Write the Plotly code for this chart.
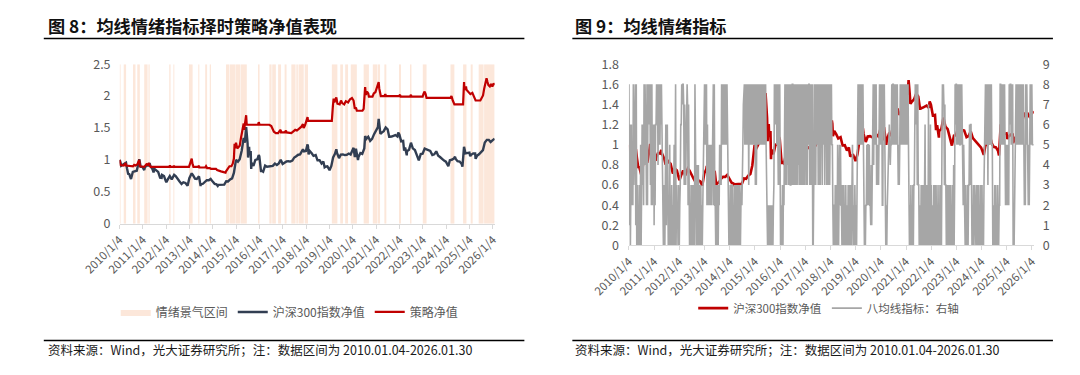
import pandas as pd
import plotly.graph_objects as go

FONT = "Noto Sans CJK SC"

# ---------------- data ----------------
tick_labels = ["2010/1/4", "2011/1/4", "2012/1/4", "2013/1/4", "2014/1/4", "2015/1/4",
               "2016/1/4", "2017/1/4", "2018/1/4", "2019/1/4", "2020/1/4", "2021/1/4",
               "2022/1/4", "2023/1/4", "2024/1/4", "2025/1/4", "2026/1/4"]

# CSI300 net value (normalised to 2010-01-04)
hs_dates = [
    "2010-01-04", "2010-01-14", "2010-01-29", "2010-02-26", "2010-03-31", "2010-04-15", "2010-04-30", "2010-05-20", "2010-05-31", "2010-06-30",
    "2010-07-02", "2010-07-30", "2010-08-31", "2010-09-30", "2010-10-29", "2010-11-08", "2010-11-30", "2010-12-31",
    "2011-01-25", "2011-01-31", "2011-02-28", "2011-03-31", "2011-04-18", "2011-04-29", "2011-05-31", "2011-06-20", "2011-06-30",
    "2011-07-29", "2011-08-31", "2011-09-30", "2011-10-24", "2011-10-31", "2011-11-30", "2011-12-30",
    "2012-01-06", "2012-01-31", "2012-02-29", "2012-03-30", "2012-04-27", "2012-05-07", "2012-05-31", "2012-06-29", "2012-07-31",
    "2012-08-31", "2012-09-28", "2012-10-31", "2012-11-30", "2012-12-03", "2012-12-31",
    "2013-01-31", "2013-02-06", "2013-02-28", "2013-03-29", "2013-04-26", "2013-05-31", "2013-06-25", "2013-06-28", "2013-07-31",
    "2013-08-30", "2013-09-30", "2013-10-31", "2013-11-29", "2013-12-31",
    "2014-01-31", "2014-02-28", "2014-03-20", "2014-03-31", "2014-04-30", "2014-05-30", "2014-06-30", "2014-07-31", "2014-08-29",
    "2014-09-30", "2014-10-31", "2014-11-28", "2014-12-31",
    "2015-01-30", "2015-02-27", "2015-03-31", "2015-04-30", "2015-05-18", "2015-05-29", "2015-06-08", "2015-06-30", "2015-07-08",
    "2015-07-24", "2015-07-31", "2015-08-18", "2015-08-26", "2015-08-31", "2015-09-30", "2015-10-30", "2015-11-30", "2015-12-22", "2015-12-31",
    "2016-01-28", "2016-01-29", "2016-02-29", "2016-03-31", "2016-04-29", "2016-05-31", "2016-06-30", "2016-07-29", "2016-08-31",
    "2016-09-30", "2016-10-31", "2016-11-30", "2016-12-30",
    "2017-01-26", "2017-02-28", "2017-03-31", "2017-04-28", "2017-05-31", "2017-06-30", "2017-07-31", "2017-08-31", "2017-09-29",
    "2017-10-31", "2017-11-13", "2017-11-30", "2017-12-29",
    "2018-01-24", "2018-01-31", "2018-02-09", "2018-02-28", "2018-03-30", "2018-04-27", "2018-05-31", "2018-06-29", "2018-07-31",
    "2018-08-31", "2018-09-28", "2018-10-18", "2018-10-31", "2018-11-30", "2018-12-28",
    "2019-01-03", "2019-01-31", "2019-02-28", "2019-03-29", "2019-04-19", "2019-04-30", "2019-05-31", "2019-06-28", "2019-07-31",
    "2019-08-30", "2019-09-30", "2019-10-31", "2019-11-29", "2019-12-31",
    "2020-01-14", "2020-02-03", "2020-02-20", "2020-03-23", "2020-03-31", "2020-04-30", "2020-05-29", "2020-06-30", "2020-07-13",
    "2020-07-31", "2020-08-31", "2020-09-30", "2020-10-30", "2020-11-30", "2020-12-31",
    "2021-01-29", "2021-02-10", "2021-02-26", "2021-03-09", "2021-03-31", "2021-04-30", "2021-05-31", "2021-06-30", "2021-07-28",
    "2021-07-30", "2021-08-31", "2021-09-30", "2021-10-29", "2021-11-30", "2021-12-13", "2021-12-31",
    "2022-01-28", "2022-02-28", "2022-03-15", "2022-03-31", "2022-04-26", "2022-04-29", "2022-05-31", "2022-06-30", "2022-07-29",
    "2022-08-31", "2022-09-30", "2022-10-31", "2022-11-30", "2022-12-30",
    "2023-01-31", "2023-02-28", "2023-03-31", "2023-04-28", "2023-05-31", "2023-06-30", "2023-07-31", "2023-08-31", "2023-09-28",
    "2023-10-31", "2023-11-30", "2023-12-29",
    "2024-01-31", "2024-02-05", "2024-02-29", "2024-03-29", "2024-04-30", "2024-05-20", "2024-05-31", "2024-06-28", "2024-07-31",
    "2024-08-30", "2024-09-13", "2024-09-30", "2024-10-08", "2024-10-31", "2024-11-29", "2024-12-31",
    "2025-01-13", "2025-01-27", "2025-02-28", "2025-03-31", "2025-04-07", "2025-04-30", "2025-05-30", "2025-06-30", "2025-07-31",
    "2025-08-29", "2025-09-30", "2025-10-31", "2025-11-28", "2025-12-31", "2026-01-30"]
hs_values = [
    1.000, 0.976, 0.906, 0.928, 0.950, 0.956, 0.868, 0.769, 0.786, 0.725,
    0.700, 0.812, 0.821, 0.830, 0.957, 1.008, 0.891, 0.885,
    0.840, 0.870, 0.916, 0.912, 0.948, 0.909, 0.861, 0.803, 0.861,
    0.831, 0.812, 0.722, 0.718, 0.764, 0.745, 0.664,
    0.648, 0.697, 0.745, 0.694, 0.743, 0.764, 0.745, 0.696, 0.660,
    0.623, 0.649, 0.638, 0.605, 0.595, 0.714,
    0.760, 0.789, 0.756, 0.706, 0.701, 0.741, 0.590, 0.614, 0.625,
    0.661, 0.681, 0.681, 0.701, 0.659,
    0.623, 0.616, 0.590, 0.607, 0.611, 0.610, 0.612, 0.665, 0.662,
    0.693, 0.710, 0.794, 0.999,
    0.971, 1.010, 1.146, 1.343, 1.270, 1.369, 1.514, 1.265, 1.036,
    1.205, 1.079, 1.137, 0.856, 0.952, 0.906, 1.000, 1.009, 1.075, 1.055,
    0.807, 0.833, 0.814, 0.910, 0.893, 0.896, 0.892, 0.906, 0.941,
    0.920, 0.944, 1.001, 0.936,
    0.958, 0.976, 0.978, 0.973, 0.988, 1.037, 1.057, 1.081, 1.085,
    1.133, 1.165, 1.133, 1.140,
    1.242, 1.209, 1.086, 1.138, 1.103, 1.062, 1.075, 0.993, 0.995,
    0.943, 0.973, 0.883, 0.892, 0.897, 0.852,
    0.838, 0.905, 1.038, 1.095, 1.165, 1.107, 1.027, 1.082, 1.085,
    1.075, 1.079, 1.099, 1.083, 1.159,
    1.188, 1.043, 1.174, 0.999, 1.043, 1.107, 1.094, 1.178, 1.373,
    1.328, 1.362, 1.298, 1.328, 1.403, 1.474,
    1.514, 1.643, 1.509, 1.406, 1.428, 1.450, 1.508, 1.478, 1.347,
    1.361, 1.366, 1.377, 1.389, 1.367, 1.429, 1.398,
    1.291, 1.296, 1.146, 1.195, 1.071, 1.136, 1.157, 1.269, 1.180,
    1.154, 1.076, 0.992, 1.090, 1.095,
    1.176, 1.161, 1.146, 1.140, 1.075, 1.087, 1.133, 1.065, 1.044,
    1.011, 0.989, 0.971,
    0.909, 0.899, 0.995, 1.001, 1.020, 1.049, 1.013, 0.979, 0.974,
    0.939, 0.894, 1.137, 1.204, 1.101, 1.108, 1.113,
    1.057, 1.080, 1.100, 1.100, 1.016, 1.066, 1.086, 1.113, 1.153,
    1.272, 1.313, 1.313, 1.280, 1.310, 1.331]

# strategy net value
strat_dates = [
    "2010-01-04", "2010-01-08", "2010-01-13", "2010-01-20", "2010-03-10", "2010-03-24", "2010-04-08", "2010-04-16",
    "2010-08-02", "2010-08-20", "2010-09-10", "2010-10-08", "2010-10-22", "2010-11-08", "2010-11-12", "2010-11-17",
    "2011-01-25", "2011-02-15", "2011-03-08", "2011-03-18", "2011-04-08", "2011-04-20", "2011-05-05",
    "2012-02-20", "2012-03-02", "2012-03-12", "2012-04-25", "2012-05-04", "2012-05-10",
    "2012-12-25", "2013-01-10", "2013-01-25", "2013-02-06", "2013-02-20", "2013-03-05",
    "2013-05-20", "2013-05-30", "2013-06-05", "2013-09-05", "2013-09-18", "2013-10-05", "2013-11-15", "2013-12-05",
    "2014-02-20", "2014-03-10", "2014-05-10", "2014-07-20", "2014-07-28", "2014-08-15", "2014-09-05", "2014-09-20",
    "2014-10-20", "2014-11-10", "2014-11-28", "2014-12-09", "2014-12-18", "2014-12-31",
    "2015-01-20", "2015-02-10", "2015-02-27", "2015-03-20", "2015-04-15", "2015-04-30", "2015-05-07", "2015-05-20",
    "2015-05-28", "2015-06-08", "2015-06-15", "2015-06-18", "2015-12-10", "2015-12-22", "2016-01-04",
    "2016-06-05", "2016-07-05", "2016-07-25", "2016-08-15", "2016-09-15", "2016-10-20", "2016-11-10", "2016-11-29", "2016-12-05",
    "2017-01-30", "2017-02-20", "2017-03-01", "2017-05-15", "2017-06-20", "2017-07-15", "2017-08-10", "2017-09-10",
    "2017-10-20", "2017-11-13", "2017-11-24", "2017-12-15", "2018-01-10", "2018-01-24", "2018-01-31",
    "2019-02-08", "2019-02-25", "2019-03-08", "2019-03-20", "2019-04-10", "2019-04-19", "2019-05-06",
    "2019-06-10", "2019-07-01", "2019-07-20", "2019-08-20", "2019-09-15", "2019-10-20", "2019-11-20", "2019-12-20",
    "2020-01-14", "2020-02-03", "2020-02-20", "2020-03-05", "2020-06-01", "2020-06-20", "2020-07-06", "2020-07-13",
    "2020-07-24", "2020-08-10", "2020-08-31", "2020-09-10", "2020-11-05", "2020-11-25", "2020-12-20",
    "2021-01-10", "2021-02-10", "2021-02-19", "2021-03-04", "2021-03-15", "2021-05-10", "2021-05-25", "2021-06-05",
    "2021-12-25", "2022-01-10", "2022-01-20", "2022-06-15", "2022-06-30", "2022-07-08",
    "2022-12-30", "2023-01-15", "2023-01-30", "2023-02-15", "2023-03-01",
    "2024-03-10", "2024-03-25", "2024-04-15", "2024-05-10", "2024-09-23", "2024-09-30", "2024-10-08", "2024-10-15",
    "2024-11-08", "2024-11-15", "2025-01-15", "2025-02-15", "2025-03-10", "2025-04-07", "2025-06-20",
    "2025-07-10", "2025-08-01", "2025-08-20", "2025-09-05", "2025-09-25", "2025-10-10", "2025-10-25",
    "2025-11-15", "2025-12-05", "2025-12-25", "2026-01-15", "2026-01-30"]
strat_values = [
    1.00, 0.98, 0.95, 0.92, 0.91, 0.93, 0.95, 0.91,
    0.90, 0.92, 0.91, 0.93, 0.97, 1.00, 0.96, 0.90,
    0.89, 0.92, 0.94, 0.91, 0.95, 0.91, 0.89,
    0.89, 0.91, 0.89, 0.89, 0.91, 0.89,
    0.89, 0.95, 0.98, 1.02, 0.93, 0.89,
    0.89, 0.91, 0.88, 0.88, 0.90, 0.87, 0.87, 0.86,
    0.86, 0.84, 0.82, 0.80, 0.82, 0.85, 0.88, 0.90,
    0.90, 0.94, 1.02, 1.25, 1.18, 1.27,
    1.18, 1.20, 1.22, 1.35, 1.50, 1.57, 1.47, 1.60,
    1.58, 1.70, 1.58, 1.55, 1.55, 1.59, 1.55,
    1.55, 1.53, 1.47, 1.44, 1.42, 1.42, 1.45, 1.47, 1.43,
    1.43, 1.46, 1.43, 1.42, 1.45, 1.47, 1.46, 1.49,
    1.52, 1.56, 1.50, 1.54, 1.62, 1.67, 1.61,
    1.61, 1.85, 1.96, 1.90, 1.95, 1.98, 1.88,
    1.87, 1.93, 1.89, 1.87, 1.92, 1.90, 1.95, 1.97,
    1.93, 1.80, 1.82, 1.77, 1.77, 1.80, 2.02, 2.14,
    2.02, 2.07, 2.04, 1.99, 1.99, 2.04, 2.06,
    2.12, 2.22, 2.12, 2.03, 2.00, 2.00, 2.03, 2.00,
    2.00, 2.02, 1.99, 1.99, 2.02, 1.99,
    1.99, 2.04, 2.07, 2.03, 1.97,
    1.97, 2.00, 1.93, 1.87, 1.87, 2.10, 2.22, 2.10,
    2.15, 2.10, 2.03, 2.05, 1.99, 1.93, 1.93,
    1.96, 2.01, 2.12, 2.20, 2.28, 2.22, 2.17,
    2.15, 2.19, 2.15, 2.20, 2.17]

# sentiment-boom intervals (start, end)
shade_start = ["2010-01-04", "2010-03-10", "2010-08-02", "2010-10-08", "2011-01-25", "2011-04-01", "2012-02-20",
               "2012-04-25", "2012-12-25", "2013-05-20", "2013-09-05", "2013-11-15", "2014-07-28", "2014-09-28",
               "2014-12-24", "2015-03-12", "2015-12-10", "2016-06-05", "2016-07-20", "2016-10-20", "2017-01-30",
               "2017-05-15", "2017-08-01", "2017-09-05", "2017-12-10", "2019-02-08", "2019-06-20", "2019-09-05",
               "2019-12-01", "2020-06-20", "2020-11-10", "2021-01-28", "2021-05-10", "2021-12-25", "2022-06-15",
               "2023-01-01", "2024-03-10", "2024-09-23", "2025-01-20", "2025-05-25", "2025-08-18"]
shade_end = ["2010-01-20", "2010-04-16", "2010-09-10", "2010-11-17", "2011-03-18", "2011-04-20", "2012-03-12",
             "2012-05-10", "2013-02-20", "2013-06-05", "2013-10-05", "2013-12-05", "2014-09-20", "2014-12-18",
             "2015-03-05", "2015-06-18", "2016-01-04", "2016-07-10", "2016-09-15", "2016-12-05", "2017-03-01",
             "2017-07-20", "2017-08-25", "2017-11-25", "2018-01-31", "2019-05-06", "2019-08-01", "2019-10-20",
             "2020-03-05", "2020-09-10", "2021-01-20", "2021-03-04", "2021-06-10", "2022-01-25", "2022-07-08",
             "2023-03-01", "2024-05-10", "2024-11-15", "2025-02-20", "2025-08-10", "2026-01-30"]

# eight-moving-average indicator (0-8), roughly weekly readings, grouped by month
ind_years = [2010, 2011, 2012, 2013, 2014, 2015, 2016, 2017, 2018, 2019, 2020, 2021, 2022, 2023, 2024, 2025, 2026]
ind_codes = [
    "8160 3624 28368 8180 03020 3050 3636 28486 5282 8686 83828 2636",
    "1626 6868 48585 8686 42030 0361 3630 20502 0302 0350 48031 2030",
    "0236 6878 87373 3588 72730 2030 0303 20830 0402 4030 03020 2478",
    "8585 8262 52525 2525 48282 2030 0303 25353 8585 6858 58585 3202",
    "0303 3030 20303 2031 03030 0232 3578 85858 5858 3858 85858 5858",
    "8383 5858 85858 5858 85858 8523 0202 02020 0202 3868 68586 3838",
    "3020 0303 25838 3848 38383 3838 8383 83838 3848 3838 83838 3838",
    "4838 3858 8383 8380 03838 3858 8383 83858 3858 8385 83838 3838",
    "8585 5202 20302 30530 35252 2030 0302 03020 0303 2030 03520 2030",
    "0203 5858 85858 8585 20202 2525 5252 21414 4848 5858 35353 5858",
    "8582 2868 52020 2356 6545 5858 8585 85858 5353 5858 85858 5858",
    "8585 8530 20302 0303 36868 8383 3020 03030 0303 6030 03070 3060",
    "3020 0303 20302 0302 03030 5878 7373 30303 2030 0302 03040 3868",
    "8585 8585 58585 5252 20302 0303 3636 63020 3032 2030 03030 2030",
    "0302 0368 85858 3858 58585 5020 0303 02030 0228 8585 85858 5252",
    "2525 2868 85858 0202 25858 5858 8585 85858 5252 8585 52525 8585",
    "8555"]

# ---------------- build ----------------
tick_vals = [pd.to_datetime(t, format="%Y/%m/%d") for t in tick_labels]

shade_x, shade_y = [], []
for s, e in zip(shade_start, shade_end):
    shade_x += [s, s, e, e, s, None]
    shade_y += [0, 2.5, 2.5, 0, 0, None]

ind_x, ind_y = [], []
for yr, code in zip(ind_years, ind_codes):
    digits = [int(c) for c in code if c.isdigit()]
    if yr == 2026:
        dts = pd.date_range("2026-01-02", "2026-01-30", periods=len(digits))
    else:
        dts = pd.date_range(f"{yr}-01-04", f"{yr}-12-31", periods=len(digits))
    ind_x += list(dts)
    ind_y += digits

fig = go.Figure()
fig.add_trace(go.Scatter(x=shade_x, y=shade_y, mode="lines", fill="toself", fillcolor="#FCE7DA",
                         line=dict(width=0, color="#FCE7DA"), name="情绪景气区间",
                         xaxis="x", yaxis="y", legend="legend", hoverinfo="skip"))
fig.add_trace(go.Scatter(x=hs_dates, y=hs_values, mode="lines", line=dict(color="#323E52", width=2.4),
                         name="沪深300指数净值", xaxis="x", yaxis="y", legend="legend"))
fig.add_trace(go.Scatter(x=strat_dates, y=strat_values, mode="lines", line=dict(color="#C00000", width=2.2),
                         name="策略净值", xaxis="x", yaxis="y", legend="legend"))

fig.add_trace(go.Scatter(x=hs_dates, y=hs_values, mode="lines", line=dict(color="#C00000", width=2.6),
                         name="沪深300指数净值", xaxis="x2", yaxis="y2", legend="legend2"))
fig.add_trace(go.Scatter(x=ind_x, y=ind_y, mode="lines", line=dict(color="#A6A6A6", width=1.6),
                         name="八均线指标：右轴", xaxis="x2", yaxis="y3", legend="legend2"))

W, H = 1080, 375
axis_common = dict(type="date", range=["2010-01-04", "2026-01-30"], tickvals=tick_vals, ticktext=tick_labels,
                   tickangle=-45, showline=True, linecolor="#D9D9D9", linewidth=1, ticks="outside",
                   ticklen=4, tickcolor="#D9D9D9", showgrid=False, zeroline=False,
                   tickfont=dict(family=FONT, size=11.5, color="#595959"))
yfont = dict(family=FONT, size=12.5, color="#595959")

fig.update_layout(
    width=W, height=H, autosize=False,
    margin=dict(l=0, r=0, t=0, b=0),
    paper_bgcolor="white", plot_bgcolor="white",
    font=dict(family=FONT),
    showlegend=True,
    xaxis=dict(domain=[84 / W, 475 / W], anchor="y", **axis_common),
    yaxis=dict(domain=[1 - 224 / H, 1 - 56 / H], anchor="x", range=[0, 2.5], dtick=0.5, showgrid=False,
               zeroline=False, showline=False, tickfont=yfont, ticklabelstandoff=8),
    xaxis2=dict(domain=[615 / W, 1037 / W], anchor="y2", **axis_common),
    yaxis2=dict(domain=[1 - 247 / H, 1 - 56 / H], anchor="x2", range=[0, 1.8], dtick=0.2, showgrid=False,
                zeroline=False, showline=False, tickfont=yfont, ticklabelstandoff=9),
    yaxis3=dict(overlaying="y2", anchor="x2", side="right", range=[0, 9], dtick=1, showgrid=False,
                zeroline=False, showline=False, tickfont=yfont, ticklabelstandoff=8),
    legend=dict(orientation="h", x=80 / W, y=1 - 317 / H, xanchor="left", yanchor="middle",
                font=dict(family=FONT, size=12, color="#595959"), bgcolor="rgba(0,0,0,0)"),
    legend2=dict(orientation="h", x=682 / W, y=1 - 313 / H, xanchor="left", yanchor="middle",
                 font=dict(family=FONT, size=11.5, color="#595959"), bgcolor="rgba(0,0,0,0)"),
)

title_font = dict(family=FONT, size=17.2, color="#111111", weight=700)
note_font = dict(family=FONT, size=12.5, color="#1A1A1A")
fig.add_annotation(text="图 8：均线情绪指标择时策略净值表现", x=7 / W, y=1 - 15 / H, xref="paper", yref="paper",
                   xanchor="left", yanchor="middle", showarrow=False, font=title_font)
fig.add_annotation(text="图 9：均线情绪指标", x=557 / W, y=1 - 15 / H, xref="paper", yref="paper",
                   xanchor="left", yanchor="middle", showarrow=False, font=title_font)
note = "资料来源：Wind，光大证券研究所；注：数据区间为 2010.01.04-2026.01.30"
fig.add_annotation(text=note, x=7 / W, y=1 - 357 / H, xref="paper", yref="paper",
                   xanchor="left", yanchor="middle", showarrow=False, font=note_font)
fig.add_annotation(text=note, x=557 / W, y=1 - 357 / H, xref="paper", yref="paper",
                   xanchor="left", yanchor="middle", showarrow=False, font=note_font)

for x0, x1 in [(5, 506), (556, 1057)]:
    for yy in [29, 347]:
        fig.add_shape(type="line", xref="paper", yref="paper", x0=x0 / W, x1=x1 / W, y0=1 - yy / H, y1=1 - yy / H,
                      line=dict(color="#000000", width=1.5))

fig.write_html("out.html", config={"displayModeBar": False},
               post_script="document.body.style.margin='0px';")
